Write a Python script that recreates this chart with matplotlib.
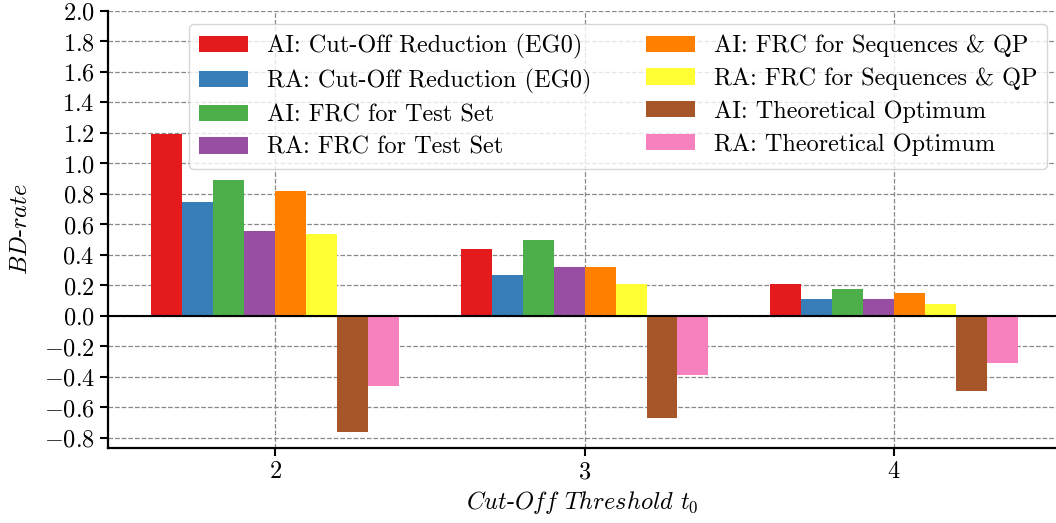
import numpy as np
import matplotlib
matplotlib.use('Agg')
import matplotlib.pyplot as plt

plt.rcParams['font.family'] = 'cmr10'
plt.rcParams['mathtext.fontset'] = 'cm'
plt.rcParams['axes.formatter.use_mathtext'] = True
plt.rcParams['font.size'] = 17.5

thresholds = [2, 3, 4]
series_labels = [
    'AI: Cut-Off Reduction (EG0)',
    'RA: Cut-Off Reduction (EG0)',
    'AI: FRC for Test Set',
    'RA: FRC for Test Set',
    'AI: FRC for Sequences & QP',
    'RA: FRC for Sequences & QP',
    'AI: Theoretical Optimum',
    'RA: Theoretical Optimum',
]
ai_cutoff = [1.19, 0.44, 0.21]
ra_cutoff = [0.75, 0.27, 0.11]
ai_frc_test = [0.89, 0.50, 0.18]
ra_frc_test = [0.56, 0.32, 0.11]
ai_frc_seq = [0.82, 0.32, 0.15]
ra_frc_seq = [0.54, 0.21, 0.08]
ai_optimum = [-0.76, -0.67, -0.49]
ra_optimum = [-0.46, -0.39, -0.31]
series_values = [ai_cutoff, ra_cutoff, ai_frc_test, ra_frc_test,
                 ai_frc_seq, ra_frc_seq, ai_optimum, ra_optimum]
colors = ['#e41a1c', '#377eb8', '#4daf4a', '#984ea3',
          '#ff7f00', '#ffff33', '#a65628', '#f781bf']

fig = plt.figure(figsize=(10.56, 5.23), dpi=100)
ax = fig.add_axes([0.1023, 0.1434, 0.8977, 0.8356])

width = 0.1
x = np.array(thresholds, dtype=float)
for i, (label, vals, c) in enumerate(zip(series_labels, series_values, colors)):
    offset = (i - 3.5) * width
    ax.bar(x + offset, vals, width, color=c, label=label, zorder=2)

ax.axhline(0, color='black', lw=1.5, zorder=3)

ax.set_xlim(1.46, 4.523)
ax.set_ylim(-0.866, 2.0)
ax.set_xticks(thresholds)
ax.set_yticks(np.arange(-0.8, 2.01, 0.2))
ax.grid(True, linestyle='--', color='#888888', lw=0.9, zorder=0)
ax.set_axisbelow(True)

for side in ['top', 'right']:
    ax.spines[side].set_visible(False)
for side in ['left', 'bottom']:
    ax.spines[side].set_linewidth(1.6)
ax.tick_params(direction='out', length=6, width=1.5, labelsize=17.5)

ax.set_ylabel(r'$\mathit{BD}$-$\mathit{rate}$', fontsize=17.5, labelpad=8)
ax.set_xlabel(r'$\mathit{Cut}$-$\mathit{Off}$ $\mathit{Threshold}$ $t_0$', fontsize=17.5)

ax.legend(ncol=2, loc='upper right', bbox_to_anchor=(0.9905, 0.970),
          borderaxespad=0, fontsize=17.5, handlelength=2.0, handleheight=0.66,
          handletextpad=0.78, columnspacing=2.26, labelspacing=0.42,
          borderpad=0.4)

fig.savefig('out.png', dpi=100)
